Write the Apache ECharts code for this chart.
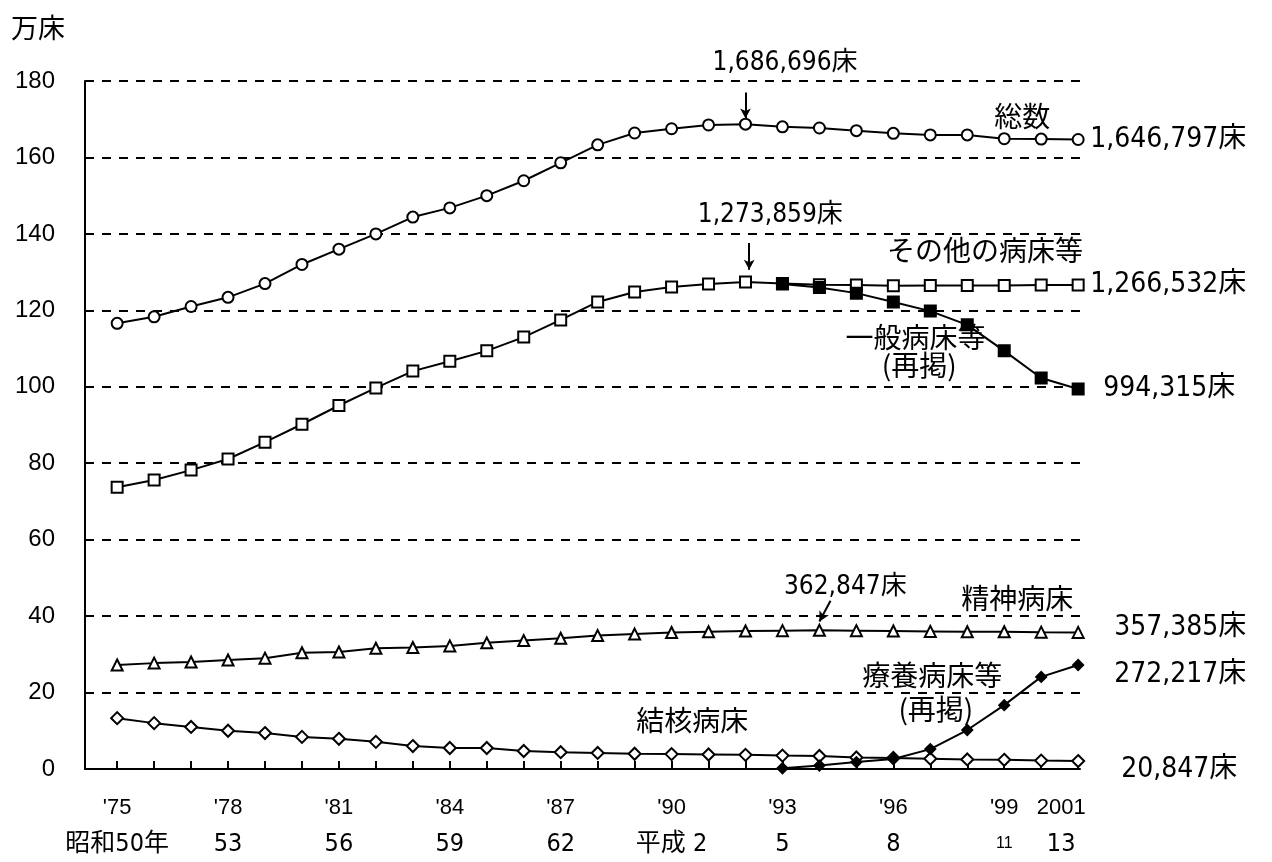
<!DOCTYPE html>
<html>
<head>
<meta charset="utf-8">
<script src="https://cdn.jsdelivr.net/npm/echarts@6/dist/echarts.min.js"></script>
<style>
html,body{margin:0;padding:0;background:#fff;}
#main{width:1272px;height:862px;}
</style>
</head>
<body>
<div id="main"></div>
<script>
// ---- data (万床) ----
const years = [1975,1976,1977,1978,1979,1980,1981,1982,1983,1984,1985,1986,1987,1988,1989,1990,1991,1992,1993,1994,1995,1996,1997,1998,1999,2000,2001];
const totalBeds = [116.6,118.3,121.0,123.4,127.0,132.0,136.0,140.0,144.4,146.8,150.0,153.9,158.6,163.3,166.4,167.5,168.5,168.7,168.0,167.7,167.0,166.3,165.9,165.9,164.9,164.8,164.7];
const otherBeds = [73.7,75.6,78.2,81.1,85.5,90.2,95.1,99.7,104.1,106.7,109.4,113.0,117.5,122.2,124.8,126.1,126.9,127.4,127.0,126.7,126.6,126.4,126.5,126.5,126.5,126.6,126.65];
const laterYears = [1993,1994,1995,1996,1997,1998,1999,2000,2001];
const generalBeds = [126.9,126.0,124.5,122.2,119.8,116.2,109.4,102.3,99.4];
const ryoyoBeds = [0.2,0.9,1.8,2.6,5.2,10.2,16.7,24.1,27.2];
const psychBeds = [27.2,27.7,28.0,28.5,29.0,30.4,30.6,31.6,31.8,32.2,33.0,33.6,34.2,34.9,35.3,35.7,35.9,36.1,36.2,36.28,36.2,36.1,36.0,35.9,35.9,35.8,35.74];
const tbBeds = [13.3,12.0,11.0,10.0,9.4,8.4,7.9,7.1,6.0,5.5,5.5,4.7,4.4,4.2,4.0,3.9,3.8,3.7,3.5,3.4,3.0,2.9,2.7,2.5,2.4,2.2,2.08];

const labelYears = [1975,1978,1981,1984,1987,1990,1993,1996,1999,2001];
const westernLabels = ["'75","'78","'81","'84","'87","'90","'93","'96","'99","2001"];
const eraLabels = ["昭和50年","53","56","59","62","平成 2","5","8","11","13"];

const endTexts = {
  total: "1,646,797床",
  other: "1,266,532床",
  general: "994,315床",
  psych: "357,385床",
  ryoyo: "272,217床",
  tb: "20,847床"
};

// ---- build ----
const pair = (xs, vs) => xs.map((x, i) => [x, vs[i]]);
const NUMFONT = '"Liberation Sans Narrow","DejaVu Sans Condensed","Noto Sans CJK JP",sans-serif';
const JPFONT = '"Noto Sans CJK JP",sans-serif';

function lineSeries(name, data, symbol, size, filled, endText, endDist, endOffset, z) {
  return {
    name: name,
    type: 'line',
    data: data,
    symbol: symbol,
    symbolSize: size,
    showSymbol: true,
    z: z,
    clip: false,
    animation: false,
    lineStyle: {color: '#000', width: 2},
    itemStyle: {color: filled ? '#000' : '#fff', borderColor: '#000', borderWidth: 2},
    emphasis: {disabled: true},
    endLabel: {
      show: true,
      formatter: endText,
      distance: endDist,
      offset: endOffset,
      color: '#000',
      fontSize: 28,
      fontFamily: NUMFONT
    }
  };
}

function textPoint(text, x, y, font, size, offset) {
  return {
    name: text,
    coord: [x, y],
    symbol: 'circle',
    symbolSize: 1,
    itemStyle: {color: 'rgba(0,0,0,0)'},
    label: {
      show: true,
      position: 'inside',
      offset: offset || [0, 0],
      formatter: text,
      color: '#000',
      fontSize: size,
      fontFamily: font
    }
  };
}

const totalSeries = lineSeries('総数', pair(years, totalBeds), 'circle', 11, false, endTexts.total, 12, [0, 0], 5);
totalSeries.markPoint = {
  animation: false,
  data: [
    textPoint('1,686,696床', 1993.07, 180, NUMFONT, 26, [0, -18]),
    textPoint('総数', 1999.49, 170.8, JPFONT, 28),
    textPoint('1,273,859床', 1992.67, 144.9, NUMFONT, 26),
    textPoint('その他の病床等', 1998.48, 135.8, JPFONT, 28),
    textPoint('一般病床等', 1996.6, 112.9, JPFONT, 28),
    textPoint('(再掲)', 1996.7, 105.6, JPFONT, 28),
    textPoint('362,847床', 1994.7, 47.6, NUMFONT, 26),
    textPoint('精神病床', 1999.35, 44.7, JPFONT, 28),
    textPoint('療養病床等', 1997.05, 24.6, JPFONT, 28),
    textPoint('(再掲)', 1997.15, 15.6, JPFONT, 28),
    textPoint('結核病床', 1990.56, 12.8, JPFONT, 28)
  ]
};
totalSeries.markLine = {
  animation: false,
  silent: true,
  symbolSize: [8, 10],
  lineStyle: {color: '#000', width: 2, type: 'solid'},
  label: {show: false},
  data: [
    [{coord: [1992, 177.0], symbol: 'none'}, {coord: [1992, 170.2], symbol: 'arrow'}],
    [{coord: [1992.1, 137.6], symbol: 'none'}, {coord: [1992.1, 130.6], symbol: 'arrow'}],
    [{coord: [1994.3, 44.0], symbol: 'none'}, {coord: [1994, 38.6], symbol: 'arrow'}]
  ]
};

const option = {
  backgroundColor: '#fff',
  animation: false,
  grid: {left: 85, right: 192, top: 81, bottom: 93},
  xAxis: {
    type: 'value',
    min: 1974.13,
    max: 2001.05,
    axisLine: {show: true, onZero: false, lineStyle: {color: '#000', width: 2}},
    axisTick: {show: true, inside: true, length: 8, customValues: years, lineStyle: {color: '#000', width: 2}},
    splitLine: {show: false},
    axisLabel: {
      show: true,
      customValues: labelYears,
      margin: 21,
      formatter: function (v) {
        const i = labelYears.indexOf(v);
        if (i < 0) return '';
        if (v === 2001) return '{al|' + westernLabels[i] + '}\n{bl|' + eraLabels[i] + '}';
        if (v === 1999) return '{a|' + westernLabels[i] + '}\n{s|' + eraLabels[i] + '}';
        return '{a|' + westernLabels[i] + '}\n{b|' + eraLabels[i] + '}';
      },
      rich: {
        a: {fontSize: 22, lineHeight: 36, color: '#000', fontFamily: 'Liberation Sans'},
        b: {fontSize: 25, lineHeight: 36, color: '#000', fontFamily: NUMFONT},
        s: {fontSize: 16, lineHeight: 36, color: '#000', fontFamily: 'Liberation Sans'},
        al: {fontSize: 22, lineHeight: 36, color: '#000', fontFamily: 'Liberation Sans', padding: [0, 34, 0, 0]},
        bl: {fontSize: 25, lineHeight: 36, color: '#000', fontFamily: NUMFONT, padding: [0, 34, 0, 0]}
      }
    }
  },
  yAxis: {
    type: 'value',
    min: 0,
    max: 180,
    interval: 20,
    name: '万床',
    nameLocation: 'end',
    nameGap: 40,
    nameTextStyle: {color: '#000', fontSize: 27, fontFamily: JPFONT, align: 'right', padding: [0, 20, 0, 0]},
    axisLine: {show: true, lineStyle: {color: '#000', width: 2}},
    axisTick: {show: false},
    axisLabel: {color: '#000', fontSize: 24, margin: 30, fontFamily: 'Liberation Sans'},
    splitLine: {show: true, lineStyle: {color: '#000', width: 2, type: [9, 8]}}
  },
  series: [
    totalSeries,
    lineSeries('その他の病床等', pair(years, otherBeds), 'rect', 11, false, endTexts.other, 12, [0, 0], 4),
    lineSeries('一般病床等', pair(laterYears, generalBeds), 'rect', 11, true, endTexts.general, 25, [0, 0], 6),
    lineSeries('精神病床', pair(years, psychBeds), 'triangle', 11, false, endTexts.psych, 36, [0, -5], 4),
    lineSeries('結核病床', pair(years, tbBeds), 'diamond', 12, false, endTexts.tb, 43, [0, 9], 4),
    lineSeries('療養病床等', pair(laterYears, ryoyoBeds), 'diamond', 10, true, endTexts.ryoyo, 36, [0, 10], 6)
  ]
};

const chart = echarts.init(document.getElementById('main'), null, {renderer: 'canvas'});
chart.setOption(option);
</script>
</body>
</html>
